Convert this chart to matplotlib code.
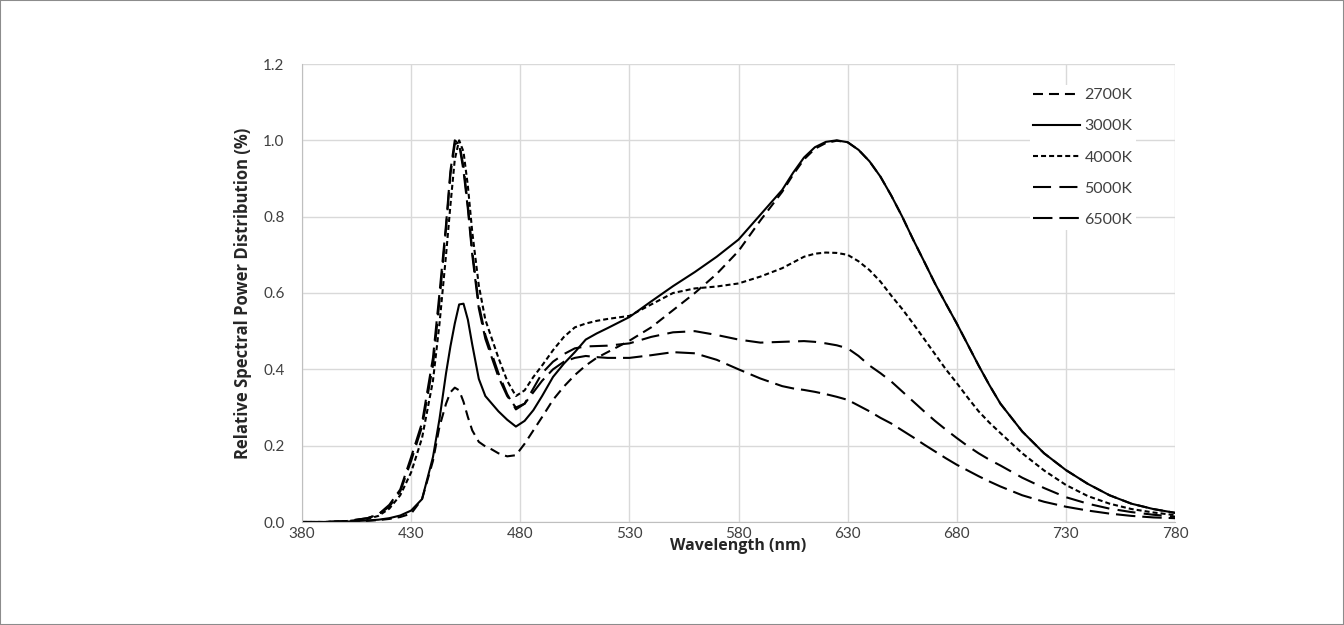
"""Relative spectral power distribution of the LED CCT options."""

import matplotlib
matplotlib.use("Agg")
import matplotlib.pyplot as plt
from matplotlib.patches import Rectangle

plt.rcParams['lines.scale_dashes'] = False
plt.rcParams['font.family'] = ['Lato', 'DejaVu Sans']

# wavelength samples (nm), denser around the blue peak and the red hump
wavelength = [380, 390, 400, 410, 415, 420, 425, 430, 435, 440, 443, 446, 448,
              450, 452, 454, 456, 458, 461, 464, 467, 470, 474, 478, 482, 486,
              490, 495, 500, 505, 510, 515, 520, 530, 540, 550, 560, 570, 580,
              590, 600, 605, 610, 615, 620, 625, 630, 635, 640, 645, 650, 655,
              660, 665, 670, 675, 680, 685, 690, 695, 700, 710, 720, 730, 740,
              750, 760, 770, 780]

spd_2700 = [0.0, 0.0, 0.001, 0.003, 0.005, 0.008, 0.013, 0.022, 0.06, 0.16,
            0.25, 0.31, 0.34, 0.352, 0.345, 0.315, 0.275, 0.24, 0.21, 0.198,
            0.19, 0.18, 0.172, 0.175, 0.205, 0.24, 0.275, 0.32, 0.355, 0.385,
            0.41, 0.43, 0.445, 0.475, 0.51, 0.555, 0.60, 0.65, 0.71, 0.79,
            0.865, 0.91, 0.95, 0.978, 0.993, 0.999, 0.995, 0.975, 0.945,
            0.905, 0.855, 0.80, 0.74, 0.683, 0.625, 0.572, 0.52, 0.465, 0.41,
            0.358, 0.31, 0.237, 0.18, 0.136, 0.10, 0.07, 0.048, 0.034, 0.024]

spd_3000 = [0.0, 0.0, 0.001, 0.004, 0.006, 0.01, 0.017, 0.03, 0.06, 0.17,
            0.27, 0.39, 0.46, 0.52, 0.57, 0.572, 0.53, 0.465, 0.375, 0.33,
            0.31, 0.29, 0.268, 0.25, 0.265, 0.293, 0.33, 0.38, 0.415, 0.445,
            0.478, 0.494, 0.508, 0.537, 0.578, 0.618, 0.655, 0.695, 0.74,
            0.805, 0.87, 0.915, 0.955, 0.982, 0.996, 1.0, 0.995, 0.975, 0.945,
            0.905, 0.855, 0.80, 0.74, 0.683, 0.625, 0.572, 0.52, 0.465, 0.41,
            0.358, 0.31, 0.237, 0.18, 0.136, 0.10, 0.07, 0.048, 0.034, 0.024]

spd_4000 = [0.0, 0.0, 0.002, 0.008, 0.016, 0.035, 0.07, 0.13, 0.22, 0.37,
            0.52, 0.70, 0.83, 0.95, 1.0, 0.97, 0.88, 0.76, 0.62, 0.53, 0.48,
            0.43, 0.37, 0.33, 0.345, 0.38, 0.41, 0.45, 0.485, 0.51, 0.52,
            0.527, 0.532, 0.54, 0.57, 0.60, 0.612, 0.617, 0.625, 0.643, 0.665,
            0.68, 0.695, 0.703, 0.706, 0.705, 0.70, 0.683, 0.66, 0.63, 0.593,
            0.558, 0.52, 0.48, 0.44, 0.40, 0.364, 0.326, 0.29, 0.26, 0.233,
            0.18, 0.135, 0.097, 0.068, 0.048, 0.034, 0.025, 0.018]

spd_5000 = [0.0, 0.0, 0.002, 0.01, 0.02, 0.04, 0.08, 0.16, 0.25, 0.41, 0.58,
            0.77, 0.91, 0.99, 0.995, 0.93, 0.83, 0.71, 0.57, 0.49, 0.44, 0.39,
            0.335, 0.295, 0.31, 0.35, 0.39, 0.42, 0.44, 0.455, 0.46, 0.461,
            0.462, 0.468, 0.485, 0.497, 0.50, 0.49, 0.478, 0.47, 0.472, 0.473,
            0.474, 0.472, 0.468, 0.463, 0.455, 0.435, 0.41, 0.39, 0.368,
            0.342, 0.316, 0.29, 0.265, 0.242, 0.22, 0.199, 0.18, 0.163, 0.148,
            0.116, 0.089, 0.065, 0.048, 0.035, 0.026, 0.019, 0.014]

spd_6500 = [0.0, 0.0, 0.002, 0.01, 0.02, 0.045, 0.085, 0.17, 0.26, 0.43, 0.60,
            0.78, 0.92, 1.0, 0.99, 0.92, 0.82, 0.70, 0.56, 0.48, 0.43, 0.38,
            0.33, 0.30, 0.31, 0.34, 0.37, 0.40, 0.42, 0.43, 0.435, 0.432,
            0.43, 0.43, 0.437, 0.445, 0.442, 0.425, 0.40, 0.376, 0.356, 0.35,
            0.346, 0.341, 0.335, 0.328, 0.32, 0.305, 0.29, 0.273, 0.258, 0.24,
            0.222, 0.203, 0.185, 0.167, 0.15, 0.135, 0.12, 0.106, 0.093,
            0.07, 0.053, 0.04, 0.03, 0.022, 0.016, 0.012, 0.01]

labels = ['2700K', '3000K', '4000K', '5000K', '6500K']
series = [spd_2700, spd_3000, spd_4000, spd_5000, spd_6500]
# dash patterns in points (solid for 3000K)
dashes = [(7.2, 4.3), None, (3.6, 2.2), (13, 6), (14, 5)]

fig = plt.figure(figsize=(13.44, 6.25), dpi=100)
ax = fig.add_axes([0.2247, 0.1648, 0.6496, 0.7328])

for lab, vals, dsh in zip(labels, series, dashes):
    line, = ax.plot(wavelength, vals, color='black', lw=1.5, label=lab,
                    solid_joinstyle='round')
    if dsh is not None:
        line.set_dashes(dsh)

ax.set_xlim(380, 780)
ax.set_ylim(0, 1.2)
ax.set_xticks(range(380, 781, 50))
ax.set_yticks([0.0, 0.2, 0.4, 0.6, 0.8, 1.0, 1.2])
ax.set_yticklabels([f"{v:.1f}" for v in ax.get_yticks()])
ax.grid(True, color='#d9d9d9', lw=1)
ax.set_axisbelow(True)
ax.tick_params(axis='both', length=0, labelsize=11, colors='#404040')
ax.tick_params(axis='y', pad=12.5)
ax.tick_params(axis='x', pad=3.5)
for side in ['top', 'right']:
    ax.spines[side].set_visible(False)
for side in ['left', 'bottom']:
    ax.spines[side].set_color('#bfbfbf')

ax.set_xlabel("Wavelength (nm)", fontsize=11.5, fontweight='bold',
              family=['Open Sans', 'DejaVu Sans'], color='#262626')
ax.set_ylabel("Relative Spectral Power Distribution (%)", fontsize=12,
              fontweight='bold', family=['Open Sans', 'DejaVu Sans'],
              color='#262626')
ax.xaxis.set_label_coords(0.5, -0.036)
ax.yaxis.set_label_coords(-0.057, 0.5)

leg = ax.legend(loc='upper left', bbox_to_anchor=(0.8247, 0.9716),
                frameon=True, fancybox=False, edgecolor='none',
                facecolor='white', framealpha=1, fontsize=11.5,
                handlelength=2.95, handletextpad=0.25, labelspacing=1.06,
                borderpad=0.2)
for t in leg.get_texts():
    t.set_color('#404040')

# thin border round the whole picture
fig.patches.append(Rectangle((0, 0), 1, 1, transform=fig.transFigure,
                             fill=False, edgecolor='#8c8c8c', lw=1.5))

fig.savefig("out.png", dpi=100)
